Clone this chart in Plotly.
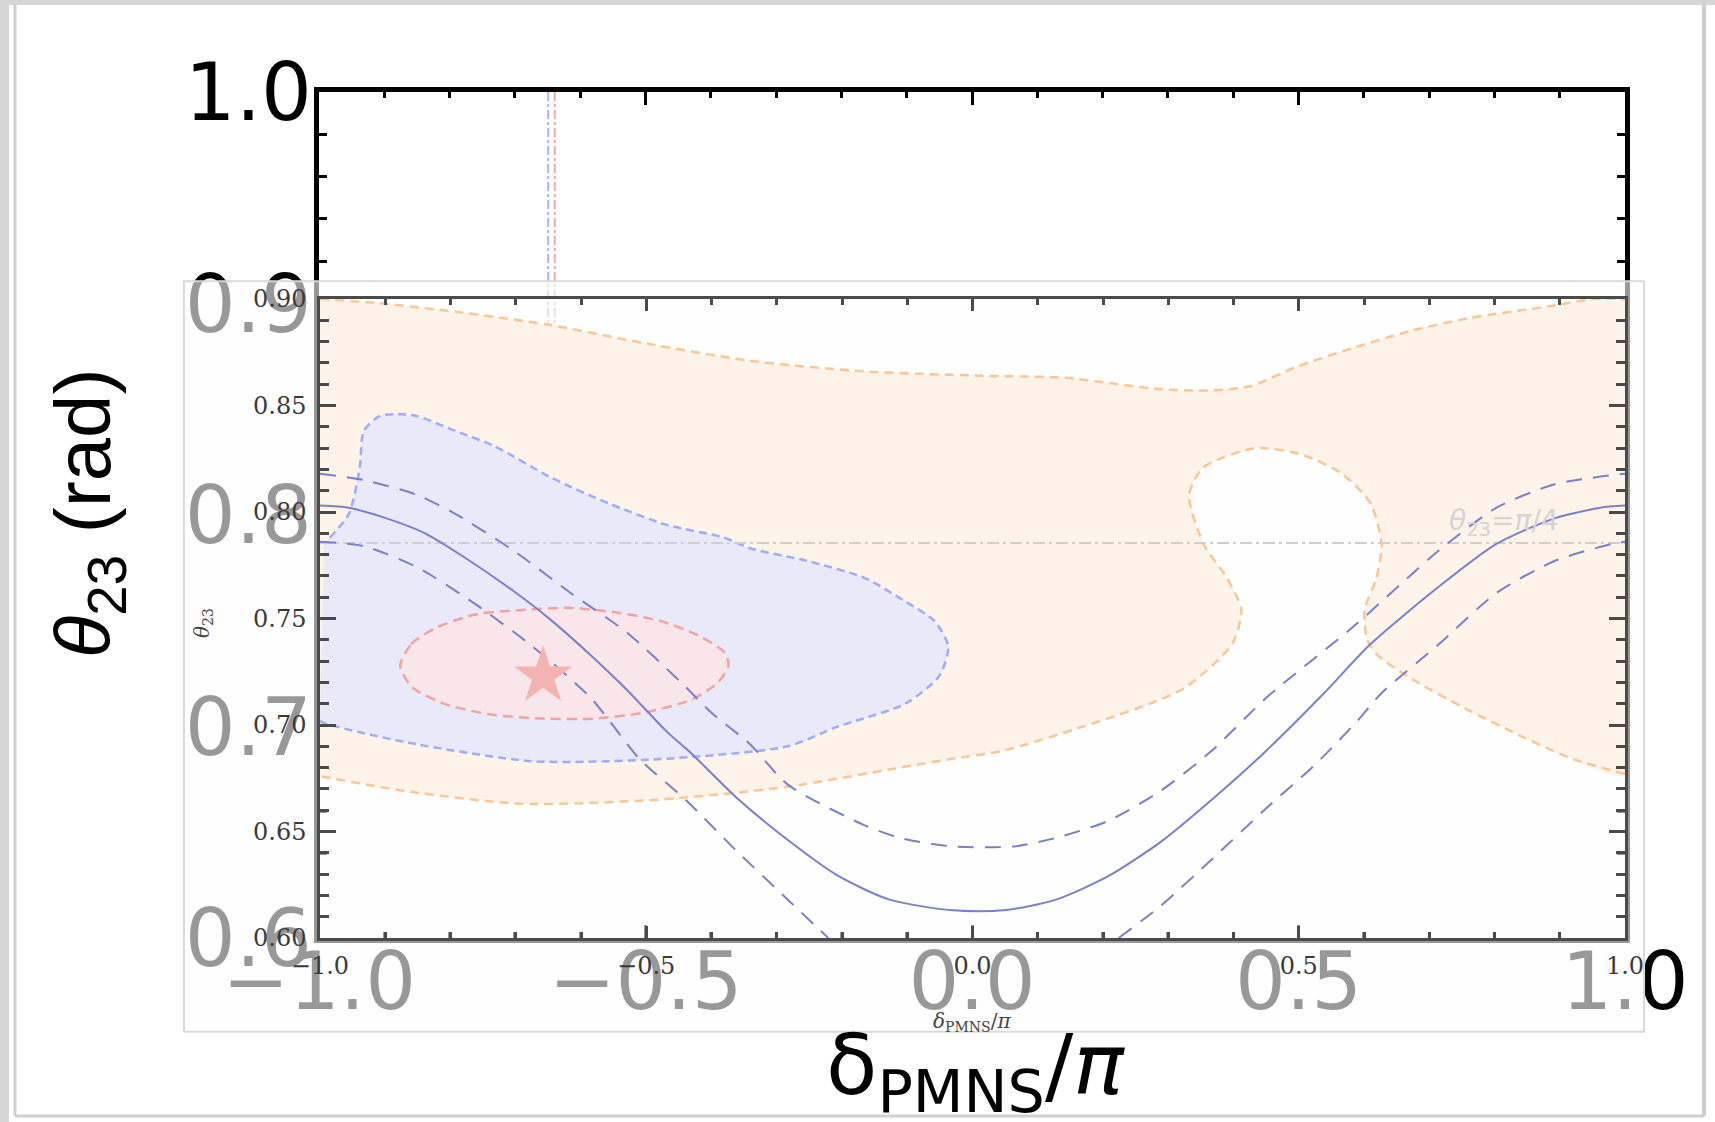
import plotly.graph_objects as go

W, H = 1715, 1122

# ---------------- data ----------------
# outer axis ticks
outer_x_ticks = [-1.0, -0.5, 0.0, 0.5, 1.0]
outer_y_ticks = [0.6, 0.7, 0.8, 0.9, 1.0]
# inner axis ticks
inner_x_ticks = [-1.0, -0.5, 0.0, 0.5, 1.0]
inner_y_ticks = [0.60, 0.65, 0.70, 0.75, 0.80, 0.85, 0.90]

# best-fit vertical markers (outer frame)
bf_blue_x = -0.649
bf_red_x = -0.639
bf_line_y = [1.0, 0.755]

# orange (large) allowed region: upper boundary, left -> right
orange_top_x = [-1.0, -0.909, -0.792, -0.651, -0.498, -0.341, -0.165, 0.011, 0.143,
                0.275, 0.354, 0.425, 0.495, 0.583, 0.671, 0.760, 0.892, 0.95, 1.0]
orange_top_y = [0.900, 0.898, 0.894, 0.888, 0.879, 0.871, 0.866, 0.864, 0.863,
                0.858, 0.857, 0.859, 0.868, 0.877, 0.885, 0.891, 0.897, 0.900, 0.900]
# orange lower boundary, right edge -> blob -> left edge
orange_low_x = [1.0, 0.92, 0.846, 0.760, 0.671, 0.620, 0.605, 0.601, 0.619, 0.627,
                0.610, 0.566, 0.504, 0.434, 0.354, 0.332, 0.354, 0.390, 0.412, 0.398,
                0.328, 0.272, 0.187, 0.048, -0.034, -0.111, -0.283, -0.479, -0.690,
                -0.870, -1.0]
orange_low_y = [0.677, 0.684, 0.694, 0.707, 0.722, 0.733, 0.740, 0.754, 0.769, 0.785,
                0.804, 0.818, 0.827, 0.830, 0.821, 0.808, 0.785, 0.769, 0.754, 0.738,
                0.718, 0.710, 0.701, 0.688, 0.684, 0.680, 0.671, 0.665, 0.663,
                0.669, 0.676]

# blue allowed region (boundary, starting and ending on the left frame)
blue_x = [-1.0, -0.995, -0.870, -0.675, -0.479, -0.283, -0.209, -0.103, -0.051, -0.037,
          -0.059, -0.103, -0.165, -0.253, -0.341, -0.381, -0.469, -0.557, -0.645, -0.733,
          -0.792, -0.851, -0.880, -0.909, -0.933, -0.939, -0.956, -0.994]
blue_y = [0.702, 0.701, 0.692, 0.683, 0.684, 0.690, 0.699, 0.710, 0.723, 0.737,
          0.749, 0.758, 0.769, 0.777, 0.783, 0.788, 0.794, 0.804, 0.816, 0.831,
          0.838, 0.845, 0.846, 0.845, 0.838, 0.821, 0.799, 0.785]

# red (small) allowed region
red_x = [-0.877, -0.860, -0.820, -0.760, -0.690, -0.620, -0.550, -0.480, -0.420, -0.380,
         -0.374, -0.390, -0.430, -0.500, -0.580, -0.660, -0.740, -0.810, -0.860, -0.877]
red_y = [0.728, 0.738, 0.746, 0.752, 0.754, 0.755, 0.753, 0.749, 0.742, 0.734,
         0.728, 0.720, 0.712, 0.706, 0.703, 0.703, 0.705, 0.710, 0.718, 0.728]

# best-fit point
star_x = [-0.658]
star_y = [0.723]

# sum-rule prediction: central curve
central_x = [-1.0, -0.956, -0.898, -0.839, -0.780, -0.704, -0.645, -0.586, -0.528, -0.469,
             -0.432, -0.362, -0.283, -0.205, -0.127, -0.031, 0.048, 0.128, 0.208, 0.288,
             0.367, 0.447, 0.539, 0.610, 0.715, 0.803, 0.892, 0.962, 1.0]
central_y = [0.803, 0.802, 0.797, 0.790, 0.779, 0.763, 0.749, 0.733, 0.716, 0.697,
             0.687, 0.666, 0.646, 0.629, 0.618, 0.613, 0.613, 0.618, 0.629, 0.645,
             0.665, 0.687, 0.715, 0.738, 0.765, 0.785, 0.797, 0.802, 0.803]
# upper band edge
upper_x = [-1.0, -0.933, -0.851, -0.792, -0.704, -0.616, -0.528, -0.440, -0.401, -0.341,
           -0.283, -0.166, -0.111, -0.031, 0.064, 0.128, 0.208, 0.288, 0.367, 0.451,
           0.583, 0.715, 0.803, 0.892, 1.0]
upper_y = [0.818, 0.815, 0.808, 0.799, 0.782, 0.762, 0.743, 0.718, 0.706, 0.691,
           0.672, 0.653, 0.647, 0.643, 0.643, 0.647, 0.655, 0.669, 0.688, 0.713,
           0.746, 0.782, 0.802, 0.813, 0.818]
# lower band edge (leaves the frame at the bottom)
lower_a_x = [-1.0, -0.933, -0.851, -0.763, -0.675, -0.586, -0.510, -0.440, -0.362, -0.283, -0.221]
lower_a_y = [0.786, 0.784, 0.774, 0.757, 0.737, 0.713, 0.684, 0.665, 0.641, 0.618, 0.600]
lower_b_x = [0.224, 0.288, 0.367, 0.447, 0.527, 0.590, 0.627, 0.715, 0.803, 0.892, 0.980, 1.0]
lower_b_y = [0.600, 0.615, 0.637, 0.660, 0.682, 0.702, 0.715, 0.738, 0.762, 0.777, 0.785, 0.786]

# maximal mixing reference
max_mix_y = 0.7854
max_mix_x = [-1.0, 1.0]

# ---------------- styles ----------------
ORANGE_FILL, ORANGE_LINE = '#fdf3e8', '#f8c697'
BLUE_FILL, BLUE_LINE = '#e9e9f9', '#a0aaf6'
RED_FILL, RED_LINE = '#f9e6ea', '#f2a2a2'
CURVE = '#7a80c8'

fig = go.Figure()

def add(tr, ax):
    tr.update(xaxis='x' + ax[0], yaxis='y' + ax[1], showlegend=False, hoverinfo='skip')
    fig.add_trace(tr)

SPL = dict(shape='spline', smoothing=0.7)

# ----- outer frame (subplot 1) -----
add(go.Scatter(x=[bf_blue_x, bf_blue_x], y=bf_line_y, mode='lines',
               line=dict(color='#b0b0f2', width=2, dash='dashdot')), ('', ''))
add(go.Scatter(x=[bf_red_x, bf_red_x], y=bf_line_y, mode='lines',
               line=dict(color='#f2a8a8', width=2, dash='dashdot')), ('', ''))

# ----- semi-transparent pasted panel (subplot 2) -----
add(go.Scatter(x=[0, 1, 1, 0, 0], y=[0, 0, 1, 1, 0], mode='lines', fill='toself',
               fillcolor='rgba(253,253,253,0.6)',
               line=dict(color='#d9d9d9', width=2)), ('2', '2'))

# ----- inner plot (subplot 3) -----
I = ('3', '3')
add(go.Scatter(x=orange_top_x + orange_low_x, y=orange_top_y + orange_low_y, mode='lines',
               fill='toself', fillcolor=ORANGE_FILL, line=dict(width=0, **SPL)), I)
add(go.Scatter(x=orange_top_x, y=orange_top_y, mode='lines',
               line=dict(color=ORANGE_LINE, width=2.5, dash='9px,6px', **SPL)), I)
add(go.Scatter(x=orange_low_x, y=orange_low_y, mode='lines',
               line=dict(color=ORANGE_LINE, width=2.5, dash='9px,6px', **SPL)), I)
add(go.Scatter(x=blue_x, y=blue_y, mode='lines', fill='toself', fillcolor=BLUE_FILL,
               line=dict(width=0, **SPL)), I)
add(go.Scatter(x=blue_x, y=blue_y, mode='lines',
               line=dict(color=BLUE_LINE, width=2.5, dash='8px,5px', **SPL)), I)
add(go.Scatter(x=red_x, y=red_y, mode='lines', fill='toself', fillcolor=RED_FILL,
               line=dict(color=RED_LINE, width=2.5, dash='10px,6px', **SPL)), I)
add(go.Scatter(x=max_mix_x, y=[max_mix_y, max_mix_y], mode='lines',
               line=dict(color='#cfcfcf', width=2, dash='12px,4px,3px,4px')), I)
add(go.Scatter(x=central_x, y=central_y, mode='lines',
               line=dict(color=CURVE, width=2, **SPL)), I)
add(go.Scatter(x=upper_x, y=upper_y, mode='lines',
               line=dict(color=CURVE, width=2, dash='16px,11px', **SPL)), I)
add(go.Scatter(x=lower_a_x, y=lower_a_y, mode='lines',
               line=dict(color=CURVE, width=2, dash='16px,11px', **SPL)), I)
add(go.Scatter(x=lower_b_x, y=lower_b_y, mode='lines',
               line=dict(color=CURVE, width=2, dash='16px,11px', **SPL)), I)
add(go.Scatter(x=star_x, y=star_y, mode='markers',
               marker=dict(symbol='star', size=44, color='#f4b3b1', line=dict(width=0))), I)

# ---------------- layout ----------------
def px_x(a, b):
    return [a / W, b / W]

def px_y(top, bottom):
    return [1 - bottom / H, 1 - top / H]

outer_common = dict(showline=True, linecolor='black', linewidth=5, mirror='ticks',
                    ticks='inside', tickcolor='black', tickwidth=3, showgrid=False,
                    zeroline=False, tickformat='.1f', automargin=False,
                    tickfont=dict(family='DejaVu Sans', size=80, color='black'))
inner_common = dict(showline=True, linecolor='#4a4a4a', linewidth=2.5, mirror='ticks',
                    ticks='inside', tickcolor='#4a4a4a', tickwidth=2.5, showgrid=False,
                    zeroline=False, automargin=False,
                    tickfont=dict(family='DejaVu Serif', size=24, color='#3a3a3a'))

fig.update_layout(
    template='none',
    width=W, height=H, margin=dict(l=0, r=0, t=0, b=0, pad=0, autoexpand=False),
    paper_bgcolor='white', plot_bgcolor='rgba(0,0,0,0)', showlegend=False,
    xaxis=dict(domain=px_x(319, 1625), range=[-1, 1], anchor='y', tickvals=outer_x_ticks,
               ticklen=13, minor=dict(dtick=0.1, ticks='inside', ticklen=6, tickwidth=3,
                                      tickcolor='black'),
               ticklabelstandoff=-30, **outer_common),
    yaxis=dict(domain=px_y(92, 938), range=[0.6, 1.0], anchor='x', tickvals=outer_y_ticks,
               ticklen=18, minor=dict(dtick=0.02, ticks='inside', ticklen=8, tickwidth=3,
                                      tickcolor='black'),
               ticklabelstandoff=-14, **outer_common),
    xaxis2=dict(domain=px_x(181, 1647), range=[-0.002, 1.002], anchor='y2', visible=False,
                automargin=False),
    yaxis2=dict(domain=px_y(279, 1034), range=[-0.003, 1.003], anchor='x2', visible=False,
                automargin=False),
    xaxis3=dict(domain=px_x(320, 1625), range=[-1, 1], anchor='y3', tickvals=inner_x_ticks,
                tickformat='.1f', ticklen=12,
                minor=dict(dtick=0.1, ticks='inside', ticklen=6, tickwidth=2.5,
                           tickcolor='#4a4a4a'),
                ticklabelstandoff=4, **inner_common),
    yaxis3=dict(domain=px_y(299, 938), range=[0.6, 0.9], anchor='x3', tickvals=inner_y_ticks,
                tickformat='.2f', ticklen=16,
                minor=dict(dtick=0.01, ticks='inside', ticklen=9, tickwidth=2.5,
                           tickcolor='#4a4a4a'),
                ticklabelstandoff=6, **inner_common),
)

ann = []
# outer titles
ann.append(dict(text='<i>θ</i><sub>23</sub> (rad)', xref='paper', yref='paper',
                x=88 / W, y=1 - 514 / H, xanchor='center', yanchor='middle',
                textangle=-90, showarrow=False,
                font=dict(family='Liberation Sans', size=78, color='black')))
ann.append(dict(text='δ<sub>PMNS</sub>/<i>π</i>', xref='paper', yref='paper',
                x=976 / W, y=1 - 1071 / H, xanchor='center', yanchor='middle',
                showarrow=False,
                font=dict(family='DejaVu Sans', size=84, color='black')))
# inner titles
ann.append(dict(text='<i>θ</i><sub>23</sub>', xref='paper', yref='paper',
                x=203 / W, y=1 - 623 / H, xanchor='center', yanchor='middle',
                textangle=-90, showarrow=False,
                font=dict(family='DejaVu Serif', size=20, color='#444444')))
ann.append(dict(text='<i>δ</i><sub>PMNS</sub>/<i>π</i>', xref='paper', yref='paper',
                x=972 / W, y=1 - 1022 / H, xanchor='center', yanchor='middle',
                showarrow=False,
                font=dict(family='DejaVu Serif', size=20, color='#444444')))
# maximal mixing label
ann.append(dict(text='<i>θ</i><sub>23</sub>=<i>π</i>/4', xref='x3', yref='y3',
                x=0.815, y=0.795, xanchor='center', yanchor='middle', showarrow=False,
                font=dict(family='DejaVu Sans', size=28, color='#d4d4d4')))
fig.update_layout(annotations=ann)

# outer picture border
fig.update_layout(shapes=[
    dict(type='rect', xref='paper', yref='paper', x0=0, x1=9 / W, y0=0, y1=1,
         fillcolor='#d6d6d6', line=dict(width=0), layer='below'),
    dict(type='rect', xref='paper', yref='paper', x0=0, x1=1, y0=1 - 5 / H, y1=1,
         fillcolor='#d6d6d6', line=dict(width=0), layer='below'),
    dict(type='line', xref='paper', yref='paper', x0=15 / W, x1=15 / W, y0=1 - 1116 / H, y1=1 - 5 / H,
         line=dict(color='#cfcfcf', width=3), layer='below'),
    dict(type='line', xref='paper', yref='paper', x0=1704 / W, x1=1704 / W, y0=1 - 1116 / H, y1=1 - 5 / H,
         line=dict(color='#cfcfcf', width=4), layer='below'),
    dict(type='line', xref='paper', yref='paper', x0=15 / W, x1=1704 / W, y0=1 - 1116 / H, y1=1 - 1116 / H,
         line=dict(color='#cfcfcf', width=3), layer='below'),
])

fig.write_html('out.html')
